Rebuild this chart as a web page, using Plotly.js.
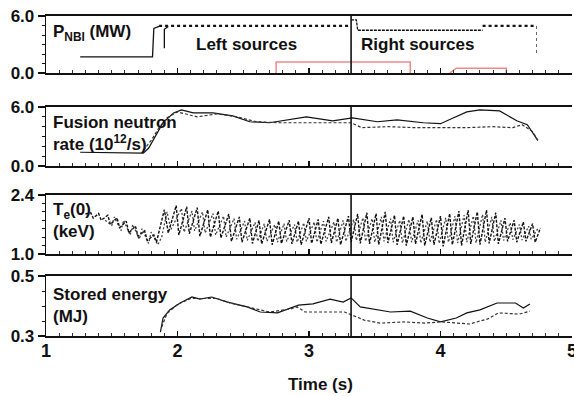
<!DOCTYPE html>
<html><head><meta charset="utf-8">
<script src="https://cdn.plot.ly/plotly-3.0.1.min.js"></script>
<style>html,body{margin:0;padding:0;background:#fff}#c{width:574px;height:396px}</style>
</head><body><div id="c"></div>
<script>
// ---- data ----
const T_MARK = 3.32;
// NBI power (MW)
const nbiLeftT = [1.26, 1.81, 1.82, 1.86];
const nbiLeftV = [1.7, 1.7, 4.7, 4.9];
const nbiStepT = [1.90, 1.90, 1.93];
const nbiStepV = [2.6, 4.6, 4.9];
const nbiWaveT = [1.86, 3.32];
const nbiWaveV = [4.95, 4.95];
const nbiRightT = [3.32, 3.36, 3.37, 4.32];
const nbiRightV = [5.6, 5.6, 4.5, 4.5];
const nbiRight2T = [4.32, 4.73];
const nbiRight2V = [4.95, 4.95];
const nbiEndT = [4.73, 4.73];
const nbiEndV = [4.95, 2.1];
const redAT = [2.75, 2.75, 3.77, 3.77];
const redAV = [0.0, 1.15, 1.15, 0.0];
const redBT = [4.07, 4.12, 4.50, 4.50];
const redBV = [0.0, 0.5, 0.5, 0.0];
// Fusion neutron rate (1e12/s)
const neutSolidT = [1.26,1.45,1.60,1.74,1.78,1.84,1.89,1.97,2.03,2.12,2.27,2.42,2.55,2.70,2.80,2.98,3.18,3.33,3.52,3.67,3.87,4.00,4.10,4.20,4.30,4.45,4.58,4.66,4.74];
const neutSolidV = [1.4,1.35,1.3,1.3,1.8,3.2,4.4,5.4,5.7,5.4,5.4,5.1,4.5,4.4,4.6,5.0,4.6,4.9,4.5,4.7,4.4,4.3,4.9,5.5,5.7,5.6,4.6,4.2,2.6];
const neutDashT = [1.74,1.80,1.86,1.92,2.00,2.15,2.30,2.45,2.60,2.78,3.00,3.20,3.32,3.40,3.60,3.80,4.00,4.20,4.40,4.55,4.62,4.70,4.74];
const neutDashV = [1.6,2.6,3.9,4.9,5.5,5.0,5.3,5.0,4.5,4.4,4.4,4.4,4.4,3.9,4.0,3.9,3.9,3.9,4.0,3.9,4.2,3.5,2.6];
// Central electron temperature (keV)
const teAT = [1.30,1.34,1.36,1.40,1.42,1.47,1.49,1.54,1.56,1.61,1.63,1.68,1.70,1.75,1.77,1.82,1.84,1.90,1.93,1.99,2.01,2.07,2.09,2.15,2.17,2.23,2.25,2.31,2.33,2.39,2.41,2.47,2.49,2.55,2.57,2.62,2.64,2.70,2.72,2.77,2.79,2.85,2.87,2.92,2.94,3.00,3.02,3.07,3.09,3.15,3.17,3.22,3.24,3.30,3.32,3.37,3.39,3.44,3.46,3.51,3.53,3.58,3.60,3.65,3.67,3.72,3.74,3.79,3.81,3.86,3.88,3.93,3.95,4.00,4.02,4.07,4.09,4.14,4.16,4.21,4.23,4.28,4.30,4.35,4.37,4.42,4.44,4.49,4.51,4.56,4.58,4.63,4.65,4.70,4.72,4.76];
const teAV = [1.95,1.98,1.85,1.96,1.80,1.92,1.70,1.86,1.62,1.78,1.50,1.66,1.42,1.55,1.32,1.45,1.28,2.05,1.50,2.15,1.45,2.12,1.48,2.10,1.42,2.05,1.40,2.02,1.38,1.95,1.30,1.88,1.28,1.85,1.25,1.80,1.24,1.82,1.22,1.78,1.25,1.80,1.24,1.78,1.22,1.85,1.25,1.82,1.23,1.88,1.26,1.85,1.22,1.90,1.28,1.95,1.25,1.98,1.24,1.96,1.22,2.00,1.26,1.92,1.22,1.90,1.20,1.88,1.24,1.94,1.20,1.86,1.22,1.90,1.18,1.96,1.22,2.02,1.20,2.04,1.24,2.00,1.22,2.04,1.25,1.98,1.24,1.85,1.30,1.80,1.28,1.76,1.30,1.72,1.28,1.62];
const teBT = [1.45,1.50,1.52,1.57,1.59,1.64,1.66,1.71,1.73,1.78,1.80,1.85,1.88,1.92,1.95,2.03,2.05,2.11,2.13,2.19,2.21,2.27,2.29,2.35,2.37,2.43,2.45,2.51,2.53,2.59,2.61,2.66,2.68,2.74,2.76,2.81,2.83,2.89,2.91,2.96,2.98,3.04,3.06,3.11,3.13,3.19,3.21,3.26,3.28,3.34,3.36,3.41,3.43,3.48,3.50,3.55,3.57,3.62,3.64,3.69,3.71,3.76,3.78,3.83,3.85,3.90,3.92,3.97,3.99,4.04,4.06,4.11,4.13,4.18,4.20,4.25,4.27,4.32,4.34,4.39,4.41,4.46,4.48,4.53,4.55,4.60,4.62,4.67,4.69,4.74];
const teBV = [1.80,1.68,1.88,1.55,1.80,1.45,1.70,1.35,1.60,1.25,1.52,1.22,1.40,2.00,1.58,2.08,1.52,2.02,1.55,2.00,1.50,1.96,1.45,1.90,1.40,1.84,1.35,1.78,1.32,1.75,1.30,1.72,1.30,1.70,1.28,1.72,1.30,1.70,1.28,1.74,1.30,1.76,1.28,1.78,1.30,1.76,1.28,1.80,1.30,1.82,1.32,1.86,1.30,1.84,1.28,1.88,1.30,1.84,1.28,1.80,1.26,1.82,1.28,1.80,1.26,1.78,1.28,1.82,1.25,1.86,1.28,1.90,1.26,1.92,1.28,1.90,1.26,1.94,1.28,1.88,1.30,1.80,1.32,1.74,1.34,1.70,1.33,1.66,1.35,1.60];
// Stored energy (MJ)
const wSolidT = [1.87,1.89,1.94,2.02,2.11,2.17,2.26,2.38,2.53,2.63,2.76,2.86,2.92,3.03,3.16,3.26,3.32,3.39,3.54,3.62,3.77,3.90,4.00,4.12,4.20,4.30,4.43,4.57,4.63,4.68];
const wSolidV = [0.313,0.36,0.387,0.41,0.43,0.423,0.43,0.413,0.397,0.38,0.377,0.393,0.403,0.407,0.423,0.413,0.427,0.397,0.387,0.38,0.383,0.36,0.347,0.36,0.377,0.387,0.41,0.41,0.393,0.407];
const wDashT = [1.88,1.92,2.00,2.10,2.20,2.30,2.40,2.55,2.70,2.86,2.91,2.97,3.27,3.42,3.54,3.72,3.88,4.01,4.22,4.36,4.44,4.60,4.68];
const wDashV = [0.33,0.375,0.405,0.425,0.425,0.425,0.41,0.395,0.38,0.39,0.397,0.38,0.38,0.353,0.343,0.347,0.343,0.347,0.34,0.357,0.377,0.373,0.383];
// tick labels
const xTickVals = [1,2,3,4,5];
const yTicks = [
  {vals:[0,6], text:['0.0','6.0'], range:[0,6], minor:1},
  {vals:[0,6], text:['0.0','6.0'], range:[0,6], minor:1},
  {vals:[1.0,2.4], text:['1.0','2.4'], range:[1.0,2.4], minor:0.2},
  {vals:[0.3,0.5], text:['0.3','0.5'], range:[0.3,0.5], minor:0.05}
];

// ---- layout helpers ----
const W=574,H=396,ML=46,MR=2;
const px=x=>(x-ML)/(W-ML-MR);
const py=y=>(H-y)/H;
const panels=[[16,73],[107,166],[195,254],[276,336]];
const FONT='Liberation Sans, Arial, sans-serif';

const traces=[];
function line(x,y,ax,opt){traces.push(Object.assign({x:x,y:y,xaxis:ax[0],yaxis:ax[1],mode:'lines',hoverinfo:'skip',showlegend:false},opt));}
const A1=['x','y'],A2=['x2','y2'],A3=['x3','y3'],A4=['x4','y4'];
const K='#111';
line(nbiLeftT,nbiLeftV,A1,{line:{color:K,width:1.3}});
line(nbiStepT,nbiStepV,A1,{line:{color:K,width:1.3}});
line(nbiWaveT,nbiWaveV,A1,{line:{color:K,width:2.2,dash:'dot'}});
line(nbiRightT,nbiRightV,A1,{line:{color:K,width:1.3,dash:'3px,1px'}});
line(nbiRight2T,nbiRight2V,A1,{line:{color:K,width:2.2,dash:'dot'}});
line(nbiEndT,nbiEndV,A1,{line:{color:'#666',width:1,dash:'dot'}});
line(redAT,redAV,A1,{line:{color:'#f08a8a',width:1.5}});
line(redBT,redBV,A1,{line:{color:'#f08a8a',width:1.5}});
line(neutSolidT,neutSolidV,A2,{line:{color:K,width:1.2}});
line(neutDashT,neutDashV,A2,{line:{color:'#333',width:1.2,dash:'3px,2px'}});
line(teBT,teBV,A3,{line:{color:'#444',width:1.3,dash:'2px,2px'}});
line(teAT,teAV,A3,{line:{color:K,width:1.4,dash:'3px,1.5px'}});
line(wSolidT,wSolidV,A4,{line:{color:K,width:1.2}});
line(wDashT,wDashV,A4,{line:{color:'#333',width:1.2,dash:'3px,2px'}});

const layout={width:W,height:H,margin:{l:ML,r:MR,t:0,b:0},paper_bgcolor:'#fff',plot_bgcolor:'#fff',
  font:{family:FONT,color:'#111'},showlegend:false,annotations:[],shapes:[]};
panels.forEach((p,i)=>{
  const n=i+1, xs=n===1?'':n, ys=n===1?'':n;
  const xa={domain:[0,1],range:[1,5],anchor:'y'+ys,showline:true,mirror:true,linecolor:'#111',linewidth:2,
    showgrid:false,zeroline:false,ticks:'inside',ticklen:5,tickwidth:1.2,tickcolor:'#111',tickvals:xTickVals,
    showticklabels:n===4,
    minor:{dtick:0.1,ticks:'inside',ticklen:3,tickwidth:1,tickcolor:'#333',showgrid:false}};
  if(n===4){Object.assign(xa,{ticktext:xTickVals.map(String),ticklabeloverflow:'allow',ticklabelstandoff:-3,
    tickfont:{size:18,family:FONT,weight:'bold',color:'#111'}});}
  layout['xaxis'+xs]=xa;
  const t=yTicks[i];
  layout['yaxis'+ys]={domain:[py(p[1]),py(p[0])],range:t.range,anchor:'x'+xs,showline:true,linecolor:'#111',linewidth:1.3,
    showgrid:false,zeroline:false,ticks:'outside',ticklen:7,tickwidth:1.3,tickcolor:'#111',tickvals:t.vals,ticktext:t.text,
    tickfont:{size:17,family:FONT,weight:'bold',color:'#111'},
    minor:{dtick:t.minor,ticks:'outside',ticklen:3,tickwidth:1,tickcolor:'#111',showgrid:false}};
  layout.shapes.push({type:'line',xref:'x'+xs,yref:'y'+ys+' domain',x0:T_MARK,x1:T_MARK,y0:0,y1:1,line:{color:'#111',width:1.6}});
});
function ann(text,x,y,size,xa){layout.annotations.push({text:text,xref:'paper',yref:'paper',x:px(x),y:py(y),xanchor:xa||'left',yanchor:'middle',
  showarrow:false,align:'left',font:{family:FONT,size:size||17,color:'#111',weight:'bold'}});}
ann('P<sub>NBI</sub> (MW)',51,33);
ann('Left sources',194,44);
ann('Right sources',359,44);
ann('Fusion neutron<br>rate (10<sup>12</sup>/s)',51,134);
ann('T<sub>e</sub>(0)<br>(keV)',51,220);
ann('Stored energy<br>(MJ)',51,305);
ann('Time (s)',320,384,17,'center');
Plotly.newPlot('c',traces,layout,{staticPlot:true,displayModeBar:false});
</script></body></html>
